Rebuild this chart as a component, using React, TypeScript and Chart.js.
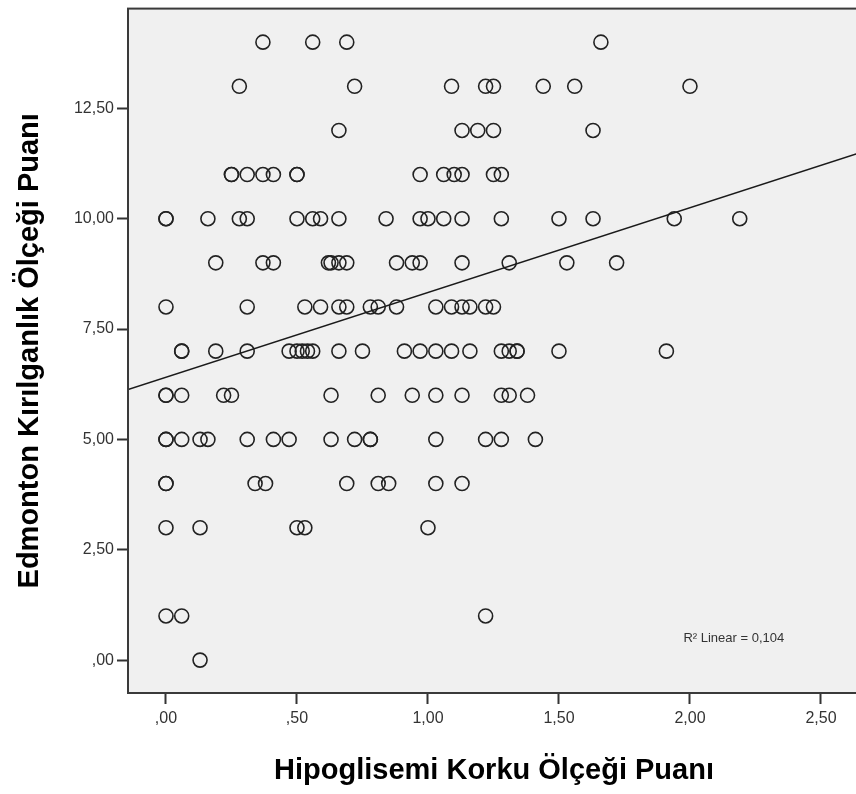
import React, { useEffect, useRef } from "react";
import { Chart, registerables } from "chart.js";

Chart.register(...registerables);

// Edmonton score levels (y) and the Hipoglisemi scores (x) observed at each level
const scoreLevels = [14, 13, 12, 11, 10, 9, 8, 7, 6, 5, 4, 3, 1, 0];
const hypoAt14 = [0.37, 0.56, 0.69, 1.66];
const hypoAt13 = [0.28, 0.72, 1.09, 1.22, 1.25, 1.44, 1.56, 2.0];
const hypoAt12 = [0.66, 1.13, 1.19, 1.25, 1.63];
const hypoAt11 = [0.25, 0.25, 0.31, 0.37, 0.41, 0.5, 0.5, 0.97, 1.06, 1.1, 1.13, 1.25, 1.28];
const hypoAt10 = [0.0, 0.0, 0.16, 0.28, 0.31, 0.5, 0.56, 0.59, 0.66, 0.84, 0.97, 1.0, 1.06, 1.13, 1.28, 1.5, 1.63, 1.94, 2.19];
const hypoAt9 = [0.19, 0.37, 0.41, 0.62, 0.63, 0.66, 0.69, 0.88, 0.94, 0.97, 1.13, 1.31, 1.53, 1.72];
const hypoAt8 = [0.0, 0.31, 0.53, 0.59, 0.66, 0.69, 0.78, 0.81, 0.88, 1.03, 1.09, 1.13, 1.16, 1.22, 1.25];
const hypoAt7 = [0.06, 0.06, 0.19, 0.31, 0.47, 0.5, 0.52, 0.54, 0.56, 0.66, 0.75, 0.91, 0.97, 1.03, 1.09, 1.16, 1.28, 1.31, 1.34, 1.34, 1.5, 1.91];
const hypoAt6 = [0.0, 0.0, 0.06, 0.22, 0.25, 0.63, 0.81, 0.94, 1.03, 1.13, 1.28, 1.31, 1.38];
const hypoAt5 = [0.0, 0.0, 0.06, 0.13, 0.16, 0.31, 0.41, 0.47, 0.63, 0.72, 0.78, 0.78, 1.03, 1.22, 1.28, 1.41];
const hypoAt4 = [0.0, 0.0, 0.34, 0.38, 0.69, 0.81, 0.85, 1.03, 1.13];
const hypoAt3 = [0.0, 0.13, 0.5, 0.53, 1.0];
const hypoAt1 = [0.0, 0.06, 1.22];
const hypoAt0 = [0.13];
const hypoByLevel = [hypoAt14, hypoAt13, hypoAt12, hypoAt11, hypoAt10, hypoAt9, hypoAt8, hypoAt7, hypoAt6, hypoAt5, hypoAt4, hypoAt3, hypoAt1, hypoAt0];

// Linear fit line (R² Linear = 0,104)
const fitIntercept = 6.41;
const fitSlope = 1.92;
const r2Label = "R\u00B2 Linear = 0,104";
const r2AnchorX = 1.975;
const r2AnchorY = 0.5;

// Axes
const xMin = -0.145;
const xMax = 2.649;
const yMin = -0.745;
const yMax = 14.76;
const xTickValues = [0, 0.5, 1, 1.5, 2, 2.5];
const xTickLabels = [",00", ",50", "1,00", "1,50", "2,00", "2,50"];
const yTickValues = [0, 2.5, 5, 7.5, 10, 12.5];
const yTickLabels = [",00", "2,50", "5,00", "7,50", "10,00", "12,50"];
const xTitle = "Hipoglisemi Korku Ölçeği Puanı";
const yTitle = "Edmonton Kırılganlık Ölçeği Puanı";

const FONT = "'Liberation Sans', Arial, sans-serif";

const plotFrame = {
  id: "plotFrame",
  beforeDraw(chart: any) {
    const { ctx, chartArea: a } = chart;
    ctx.save();
    ctx.fillStyle = "#f0f0f0";
    ctx.fillRect(a.left, a.top, a.right - a.left, a.bottom - a.top);
    ctx.restore();
  },
  afterDatasetsDraw(chart: any) {
    const { ctx, chartArea: a, scales } = chart;
    ctx.save();
    ctx.strokeStyle = "#3a3a3a";
    ctx.lineWidth = 2;
    ctx.strokeRect(a.left, a.top, a.right - a.left, a.bottom - a.top);
    ctx.fillStyle = "#333";
    ctx.font = `13px ${FONT}`;
    ctx.textAlign = "left";
    ctx.textBaseline = "middle";
    ctx.fillText(r2Label, scales.x.getPixelForValue(r2AnchorX), scales.y.getPixelForValue(r2AnchorY));
    ctx.restore();
  },
};

export default function App() {
  const canvasRef = useRef<HTMLCanvasElement>(null);

  useEffect(() => {
    if (!canvasRef.current) return;
    const points: { x: number; y: number }[] = [];
    scoreLevels.forEach((lvl, i) => {
      hypoByLevel[i].forEach((hx) => points.push({ x: hx, y: lvl }));
    });
    const fitLine = [
      { x: xMin, y: fitIntercept + fitSlope * xMin },
      { x: xMax, y: fitIntercept + fitSlope * xMax },
    ];

    const chart = new Chart(canvasRef.current, {
      type: "scatter",
      data: {
        datasets: [
          {
            data: fitLine,
            showLine: true,
            borderColor: "#1a1a1a",
            borderWidth: 1.5,
            pointRadius: 0,
            fill: false,
          } as any,
          {
            data: points,
            pointStyle: "circle",
            pointRadius: 7,
            pointBorderWidth: 1.6,
            borderColor: "#222",
            backgroundColor: "rgba(0,0,0,0)",
          } as any,
        ],
      },
      options: {
        responsive: false,
        animation: false,
        events: [],
        layout: { padding: { left: 0, top: 6, right: 10, bottom: 0 } },
        plugins: { legend: { display: false }, tooltip: { enabled: false } },
        scales: {
          x: {
            type: "linear",
            min: xMin,
            max: xMax,
            afterBuildTicks: (s: any) => {
              s.ticks = xTickValues.map((v) => ({ value: v }));
            },
            afterFit: (s: any) => {
              s.height = 101;
              s.paddingLeft = 0;
              s.paddingRight = 0;
            },
            border: { display: false },
            grid: {
              drawOnChartArea: false,
              drawTicks: true,
              tickLength: 11,
              tickColor: "#333",
              tickWidth: 2,
            },
            ticks: {
              autoSkip: false,
              maxRotation: 0,
              padding: 5,
              color: "#333",
              font: { family: FONT, size: 16 },
              callback: (_v: any, i: number) => xTickLabels[i],
            },
            title: {
              display: true,
              text: xTitle,
              color: "#000",
              font: { family: FONT, size: 29, weight: "bold" },
              padding: { top: 0, bottom: 6 },
            },
          },
          y: {
            type: "linear",
            min: yMin,
            max: yMax,
            afterBuildTicks: (s: any) => {
              s.ticks = yTickValues.map((v) => ({ value: v }));
            },
            afterFit: (s: any) => {
              s.width = 128;
              s.paddingTop = 0;
              s.paddingBottom = 0;
            },
            border: { display: false },
            grid: {
              drawOnChartArea: false,
              drawTicks: true,
              tickLength: 11,
              tickColor: "#333",
              tickWidth: 2,
            },
            ticks: {
              autoSkip: false,
              padding: 3,
              color: "#333",
              font: { family: FONT, size: 16 },
              callback: (_v: any, i: number) => yTickLabels[i],
            },
            title: {
              display: true,
              text: yTitle,
              color: "#000",
              font: { family: FONT, size: 29, weight: "bold" },
              padding: { top: 13, bottom: 0 },
            },
          },
        },
      },
      plugins: [plotFrame],
    });
    return () => chart.destroy();
  }, []);

  return (
    <div style={{ position: "absolute", left: 0, top: 0, width: 856, height: 794, overflow: "hidden", background: "#fff" }}>
      <canvas ref={canvasRef} width={870} height={794} style={{ display: "block", width: 870, height: 794 }} />
    </div>
  );
}
